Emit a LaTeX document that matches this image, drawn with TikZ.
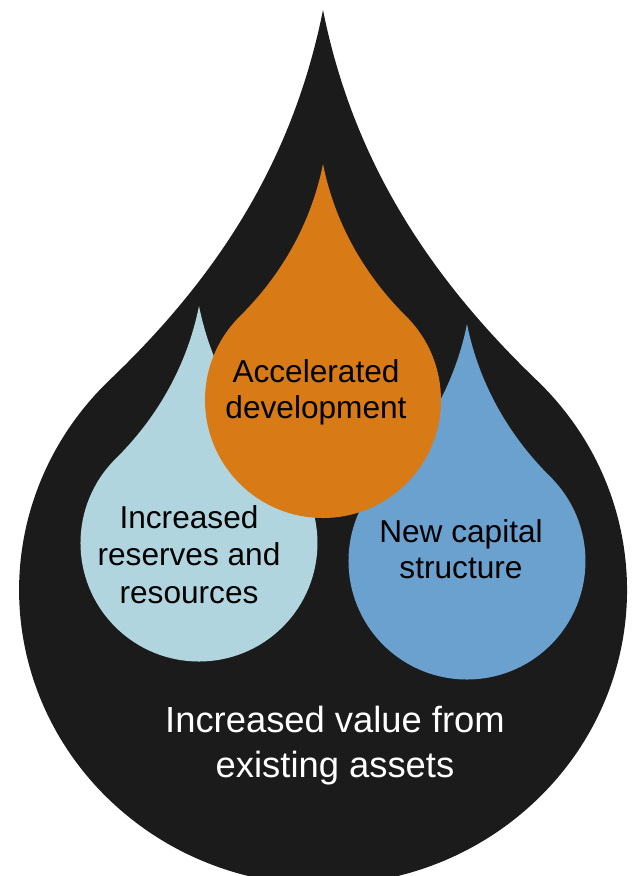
\documentclass[tikz,border=0pt]{standalone}
\usepackage{fontspec}
\setmainfont{Liberation Sans}
\definecolor{inkblack}{HTML}{1B1B1B}
\definecolor{dropOrange}{HTML}{D87A16}
\definecolor{dropLight}{HTML}{B1D5DF}
\definecolor{dropBlue}{HTML}{6AA1CF}
\tikzset{
  % unit drop: round body of radius 1 around the origin, tip two radii above
  pics/drop/.style={code={
    \fill[#1] (0,-2) .. controls (0.1,-1.5) and (0.35,-1.06) .. (0.707,-0.707)
      arc[start angle=-45, end angle=225, radius=1]
      .. controls (-0.35,-1.06) and (-0.1,-1.5) .. (0,-2) -- cycle;
  }},
  droplabel/.style={align=center, inner sep=0pt, anchor=north,
    font=\fontsize{18}{20.5}\selectfont},
}
\begin{document}
\begin{tikzpicture}[x=0.02cm, y=-0.02cm]
\clip (0,0) rectangle (633,876);
% large dark drop
\fill[inkblack] (323,10) .. controls (353,160) and (428.5,276) .. (536.5,380)
  arc[start angle=-45.4, end angle=225.4, x radius=304, y radius=295]
  .. controls (218.5,276) and (293,160) .. (323,10) -- cycle;
% inner drops
\pic[scale=118.5] at (199,543) {drop=dropLight};
\pic[scale=118.5] at (467,561) {drop=dropBlue};
\pic[scale=118] at (323,400) {drop=dropOrange};
% labels
\node[droplabel] (acc) at (316,356.8) {\strut Accelerated\\\strut development};
\node[droplabel, font=\fontsize{18}{21.3}\selectfont] (res) at (189,501.8)
  {\strut Increased\\\strut reserves and\\\strut resources};
\node[droplabel] (cap) at (461,516.8) {\strut New capital\\\strut structure};
\node[droplabel, text=white, font=\fontsize{20.7}{25.6}\selectfont] (val) at (335,700.2)
  {\strut Increased value from\\\strut existing assets};
\end{tikzpicture}
\end{document}
